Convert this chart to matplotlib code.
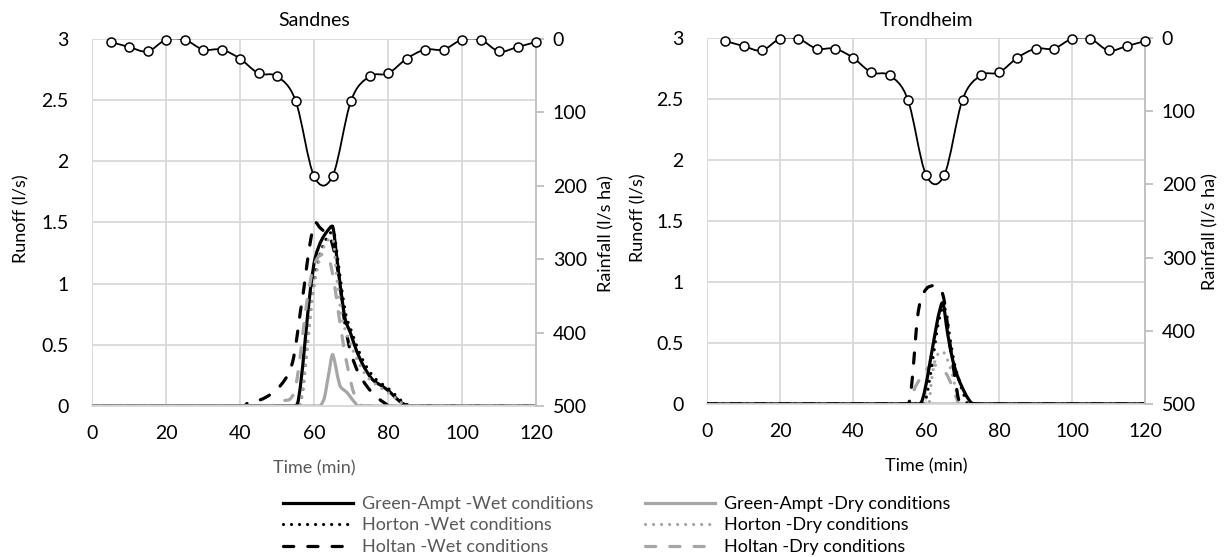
import numpy as np
import matplotlib
matplotlib.use("Agg")
import matplotlib.pyplot as plt
from matplotlib.path import Path
from matplotlib.patches import PathPatch
from matplotlib.lines import Line2D

plt.rcParams['font.family'] = ['Lato', 'DejaVu Sans']

# rainfall (l/s ha), same design storm for both sites
rain_t = [5, 10, 15, 20, 25, 30, 35, 40, 45, 50, 55, 60, 65, 70, 75, 80, 85, 90, 95, 100, 105, 110, 115, 120]
rain_v = [4, 11, 17, 1, 1, 14.5, 14.5, 27, 47, 51, 84, 187, 187, 84, 51, 47, 27, 14.5, 14.5, 1, 1, 17, 11, 4]

# Sandnes runoff (l/s)
sa_gawet_t = [0, 55, 55.5, 56.3, 57.6, 59, 60.3, 62.1, 63.6, 64.9, 66.2, 67.2, 68.5, 69.8, 71.5, 73.5, 76, 78.5, 80.3, 82.3, 84.3, 86, 120]
sa_gawet_r = [0, 0, 0.02, 0.16, 0.54, 0.95, 1.21, 1.36, 1.43, 1.47, 1.2, 0.95, 0.7, 0.6, 0.45, 0.32, 0.21, 0.16, 0.12, 0.06, 0.015, 0, 0]
sa_howet_t = [0, 56, 56.8, 58, 59.3, 60.6, 62.3, 64, 65.2, 66.4, 67.5, 68.8, 70, 71.8, 73.8, 76.3, 78.8, 80.6, 82.6, 84.6, 86.5, 120]
sa_howet_r = [0, 0, 0.1, 0.45, 0.85, 1.12, 1.3, 1.4, 1.43, 1.2, 0.95, 0.72, 0.62, 0.47, 0.34, 0.23, 0.17, 0.13, 0.07, 0.02, 0, 0]
sa_hlwet_t = [0, 41, 42.3, 45.4, 48, 50.4, 52, 53.5, 54.5, 55.4, 56.3, 57.2, 58.5, 59.5, 60.4, 61.5, 63, 64.3, 65.3, 66.3, 67.2, 68, 69, 70, 72, 74.3, 76.6, 78.8, 80.5, 120]
sa_hlwet_r = [0, 0, 0.03, 0.05, 0.09, 0.15, 0.21, 0.29, 0.4, 0.57, 0.77, 0.95, 1.25, 1.42, 1.5, 1.46, 1.42, 1.38, 1.28, 1.13, 0.96, 0.74, 0.56, 0.43, 0.27, 0.16, 0.08, 0.03, 0, 0]
sa_gadry_t = [0, 61.5, 62.6, 64, 65, 65.6, 66.3, 67.1, 68.9, 70.7, 72, 120]
sa_gadry_r = [0, 0, 0.05, 0.27, 0.42, 0.36, 0.25, 0.16, 0.11, 0.04, 0, 0]
sa_hodry_t = [0, 56, 56.8, 58, 59.4, 60.8, 62.1, 64, 65, 66.2, 67.6, 69.4, 71.6, 74.3, 77.9, 80.7, 83.4, 85, 120]
sa_hodry_r = [0, 0, 0.1, 0.41, 0.84, 1.11, 1.26, 1.36, 1.37, 1.03, 0.71, 0.54, 0.38, 0.24, 0.15, 0.095, 0.03, 0, 0]
sa_hldry_t = [0, 48, 50.4, 53.1, 54.5, 55.4, 56.7, 58, 59.9, 61.2, 62.5, 64, 65.3, 66.6, 68, 69.4, 70.7, 72, 73, 120]
sa_hldry_r = [0, 0, 0.04, 0.05, 0.1, 0.22, 0.52, 0.84, 1.14, 1.22, 1.24, 1.2, 1.03, 0.76, 0.49, 0.27, 0.11, 0.03, 0, 0]

# Trondheim runoff (l/s)
tr_gawet_t = [0, 58.3, 58.8, 59.5, 60.9, 62.3, 63.6, 64.5, 65.9, 67.3, 68.6, 70, 71.4, 72.7, 74, 120]
tr_gawet_r = [0, 0, 0.02, 0.09, 0.31, 0.55, 0.75, 0.83, 0.58, 0.36, 0.23, 0.13, 0.05, 0.005, 0, 0]
tr_howet_t = [0, 59.5, 60.5, 62, 63.5, 64.8, 65.5, 66.5, 67.8, 69, 70.3, 71.5, 120]
tr_howet_r = [0, 0, 0.12, 0.4, 0.68, 0.8, 0.75, 0.55, 0.33, 0.2, 0.08, 0, 0]
tr_hlwet_t = [0, 55.2, 55.6, 56.2, 56.9, 57.7, 58.5, 59.5, 60.7, 62, 63.2, 64.2, 64.9, 65.7, 66.8, 67.9, 69, 69.5, 120]
tr_hlwet_r = [0, 0, 0.05, 0.2, 0.45, 0.72, 0.85, 0.92, 0.96, 0.97, 0.96, 0.93, 0.86, 0.69, 0.44, 0.22, 0.03, 0, 0]
tr_gadry_t = [0, 120]
tr_gadry_r = [0, 0]
tr_hodry_t = [0, 60.8, 61.4, 62.3, 63.6, 64.5, 65.9, 67.3, 68.6, 69.2, 120]
tr_hodry_r = [0, 0, 0.17, 0.34, 0.42, 0.43, 0.36, 0.23, 0.06, 0, 0]
tr_hldry_t = [0, 55.8, 56.4, 58.2, 60, 61.8, 63.6, 65.5, 66.8, 68.2, 69.1, 120]
tr_hldry_r = [0, 0, 0.09, 0.2, 0.28, 0.32, 0.31, 0.25, 0.17, 0.06, 0, 0]

labels = ["Green-Ampt -Wet conditions", "Horton -Wet conditions", "Holtan -Wet conditions",
          "Green-Ampt -Dry conditions", "Horton -Dry conditions", "Holtan -Dry conditions"]

BLACK = "#000000"
GRAY = "#A6A6A6"
GRID = "#D9D9D9"
LW = 2.3
DOT = (0, (0.01, 2.5))
DASH = (0, (3.2, 4.4))
styles = [
    dict(color=BLACK, linestyle="-"),
    dict(color=BLACK, linestyle=DOT),
    dict(color=BLACK, linestyle=DASH),
    dict(color=GRAY, linestyle="-"),
    dict(color=GRAY, linestyle=DOT),
    dict(color=GRAY, linestyle=DASH),
]


def pchip_path(x, y):
    # smooth curve like Excel's smoothed line, no overshoot
    x = np.asarray(x, float)
    y = np.asarray(y, float)
    h = np.diff(x)
    d = np.diff(y) / h
    m = np.zeros_like(y)
    for i in range(1, len(y) - 1):
        if d[i - 1] * d[i] > 0:
            w1 = 2 * h[i] + h[i - 1]
            w2 = h[i] + 2 * h[i - 1]
            m[i] = (w1 + w2) / (w1 / d[i - 1] + w2 / d[i])
    verts = [(x[0], y[0])]
    codes = [Path.MOVETO]
    for i in range(len(x) - 1):
        verts += [(x[i] + h[i] / 3, y[i] + m[i] * h[i] / 3),
                  (x[i + 1] - h[i] / 3, y[i + 1] - m[i + 1] * h[i] / 3),
                  (x[i + 1], y[i + 1])]
        codes += [Path.CURVE4] * 3
    return Path(verts, codes)


def catmull_path(x, y):
    p = np.column_stack([x, y]).astype(float)
    verts = [tuple(p[0])]
    codes = [Path.MOVETO]
    n = len(p)
    for i in range(n - 1):
        p0 = p[max(i - 1, 0)]
        p3 = p[min(i + 2, n - 1)]
        c1 = p[i] + (p[i + 1] - p0) / 6
        c2 = p[i + 1] - (p3 - p[i]) / 6
        verts += [tuple(c1), tuple(c2), tuple(p[i + 1])]
        codes += [Path.CURVE4] * 3
    return Path(verts, codes)


fig = plt.figure(figsize=(12.29, 5.57), dpi=100)

panels = [
    ("Sandnes", [0.0749, 0.2711, 0.3613, 0.659],
     [(sa_gawet_t, sa_gawet_r), (sa_howet_t, sa_howet_r), (sa_hlwet_t, sa_hlwet_r),
      (sa_gadry_t, sa_gadry_r), (sa_hodry_t, sa_hodry_r), (sa_hldry_t, sa_hldry_r)],
     [0, 1, 2, 3, 4, 5], "#595959", -0.140, 1.140),
    ("Trondheim", [0.5753, 0.2747, 0.3564, 0.657],
     [(tr_gawet_t, tr_gawet_r), (tr_howet_t, tr_howet_r), (tr_hlwet_t, tr_hlwet_r),
      (tr_gadry_t, tr_gadry_r), (tr_hodry_t, tr_hodry_r), (tr_hldry_t, tr_hldry_r)],
     [3, 4, 5, 0, 1, 2], "#000000", -0.139, 1.130),
]

for title, pos, series, order, xlab_color, llab_x, rlab_x in panels:
    ax = fig.add_axes(pos)
    ax.set_xlim(0, 120)
    ax.set_ylim(0, 3)
    ax.set_xticks(range(0, 121, 20))
    ax.set_yticks([0, 0.5, 1, 1.5, 2, 2.5, 3])
    ax.set_yticklabels(["0", "0.5", "1", "1.5", "2", "2.5", "3"])
    ax.grid(True, color=GRID, linewidth=1.3)
    ax.set_axisbelow(True)
    for s in ["top", "right", "left"]:
        ax.spines[s].set_visible(False)
    ax.spines["bottom"].set_color(GRID)
    ax.spines["bottom"].set_linewidth(1.3)
    ax.tick_params(axis="both", length=0, labelsize=14)
    ax.tick_params(axis="y", pad=17)
    ax.tick_params(axis="x", pad=14)
    ax.set_xlabel("Time (min)", fontsize=13, color=xlab_color, labelpad=13)
    ax.set_ylabel("Runoff (l/s)", fontsize=13)
    ax.yaxis.set_label_coords(llab_x, 0.51)
    ax.set_title(title, fontsize=14, pad=9)

    for z, k in enumerate(order):
        t, r = series[k]
        patch = PathPatch(pchip_path(t, r), fill=False, linewidth=LW,
                          zorder=2 + z * 0.1, **styles[k])
        patch.set_capstyle("round")
        ax.add_patch(patch)

    ax2 = ax.twinx()
    ax2.set_ylim(500, 0)
    ax2.set_yticks(range(0, 501, 100))
    for s in ["top", "left", "bottom"]:
        ax2.spines[s].set_visible(False)
    ax2.spines["right"].set_color("#BFBFBF")
    ax2.spines["right"].set_linewidth(1.3)
    ax2.tick_params(axis="y", length=6, width=1.3, color="#BFBFBF", labelsize=14, pad=6)
    ax2.set_ylabel("Rainfall (l/s ha)", fontsize=13)
    ax2.yaxis.set_label_coords(rlab_x, 0.47)
    ax2.add_patch(PathPatch(catmull_path(rain_t, rain_v), fill=False, color=BLACK, linewidth=1.3, zorder=3))
    ax2.plot(rain_t, rain_v, linestyle="none", marker="o", markersize=6.5,
             markerfacecolor="white", markeredgecolor=BLACK, markeredgewidth=1.1, zorder=4, clip_on=False)

handles = []
for st in styles:
    h = Line2D([], [], linewidth=LW, **st)
    h.set_dash_capstyle("round")
    handles.append(h)

leg_kw = dict(loc="upper left", frameon=False, fontsize=13, handlelength=3.9, handletextpad=0.45,
              labelspacing=0.3, borderpad=0, borderaxespad=0)
leg1 = fig.legend(handles[:3], labels[:3], bbox_to_anchor=(283 / 1229, 1 - 496 / 557), **leg_kw)
for txt in leg1.get_texts():
    txt.set_color("#595959")
leg2 = fig.legend(handles[3:], labels[3:], bbox_to_anchor=(645 / 1229, 1 - 496 / 557), **leg_kw)

fig.savefig("out.png", dpi=100)
